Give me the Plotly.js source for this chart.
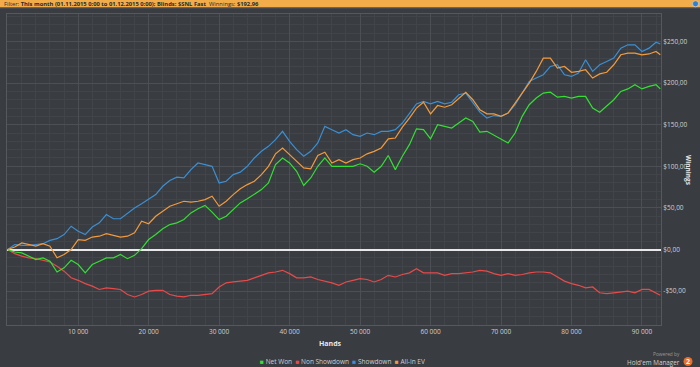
<!DOCTYPE html>
<html>
<head>
<meta charset="utf-8">
<script src="https://cdn.plot.ly/plotly-3.0.1.min.js"></script>
<style>
html,body{margin:0;padding:0;background:#393c41;}
#chart{width:700px;height:367px;}
</style>
</head>
<body>
<div id="chart"></div>
<script>
// Hands played (x values)
const hands = [0,1000,2000,3000,4000,5000,6000,7000,8000,9000,10000,11000,12000,13000,14000,15000,16000,17000,18000,19000,
20000,21000,22000,23000,24000,25000,26000,27000,28000,29000,30000,31000,32000,33000,34000,35000,36000,37000,38000,39000,
40000,41000,42000,43000,44000,45000,46000,47000,48000,49000,50000,51000,52000,53000,54000,55000,56000,57000,58000,59000,
60000,61000,62000,63000,64000,65000,66000,67000,68000,69000,70000,71000,72000,73000,74000,75000,76000,77000,78000,79000,
80000,81000,82000,83000,84000,85000,86000,87000,88000,89000,90000,91000,92000,92600];

const netWon = [0,-3,-4,-8,-12,-10,-14,-27,-22,-13,-18,-28,-18,-14,-10,-10,-6,-11,-7,1,
12,18,25,30,32,36,44,49,53,45,36,40,48,56,61,67,72,80,102,110,
104,94,77,86,100,110,100,100,100,100,103,100,93,100,113,96,112,126,145,144,
133,150,148,146,152,158,154,141,142,137,133,128,140,160,174,182,188,189,183,184,
182,184,184,170,165,172,180,190,193,198,193,196,198,192.96];

const nonShowdown = [0,-5,-8,-10,-11,-13,-15,-20,-26,-34,-37,-41,-44,-48,-46,-47,-48,-54,-57,-54,
-50,-49,-49,-54,-56,-57,-55,-55,-54,-53,-45,-40,-39,-38,-37,-34,-31,-28,-27,-25,
-29,-34,-34,-33,-36,-38,-40,-43,-39,-37,-35,-36,-39,-36,-31,-33,-30,-28,-23,-28,
-28,-28,-31,-29,-29,-28,-27,-25,-26,-29,-31,-29,-31,-30,-28,-27,-27,-28,-33,-38,
-41,-43,-46,-45,-52,-53,-52,-51,-50,-52,-48,-48,-52,-55];

const showdown = [0,6,5,5,6,7,11,13,18,28,22,18,27,32,42,37,37,44,50,55,
60,66,76,83,87,86,96,104,102,100,80,82,90,93,100,110,118,124,132,142,
130,120,112,118,128,148,144,140,144,138,136,140,138,142,142,144,152,164,175,178,
175,178,175,177,186,188,176,165,158,161,160,164,174,188,202,206,210,220,222,210,
208,212,228,214,222,226,230,242,246,246,238,242,249,247];

const allInEV = [0,3,8,6,4,7,4,-10,-6,0,12,11,15,16,19,17,15,16,20,34,
31,40,46,52,55,58,57,58,60,64,52,58,66,73,78,82,90,100,115,122,
114,106,98,97,113,117,104,108,104,108,110,115,118,122,133,134,147,158,170,177,
163,173,171,174,182,189,180,168,163,163,160,164,176,188,200,214,230,230,218,220,
213,214,216,206,211,213,222,234,236,236,234,235,238,234];

const seriesNames = ["Net Won","Non Showdown","Showdown","All-In EV"];
const seriesColors = ["#33e033","#e84a4a","#3b8fd4","#f39a3c"];

const xTickVals = [10000,20000,30000,40000,50000,60000,70000,80000,90000];
const xTickText = ["10 000","20 000","30 000","40 000","50 000","60 000","70 000","80 000","90 000"];
const yTickVals = [-50,0,50,100,150,200,250];
const yTickText = ["-$50,00","$0,00","$50,00","$100,00","$150,00","$200,00","$250,00"];

const headerText = "Filter: <b>This month (01.11.2015 0:00 to 01.12.2015 0:00); Blinds: $SNL Fast</b>  Winnings: <b>$192,96</b>";

const seriesData = [netWon, nonShowdown, showdown, allInEV];
const drawOrder = [1,0,2,3];
const traces = drawOrder.map(i => ({
  type: 'scatter', mode: 'lines', x: hands, y: seriesData[i], name: seriesNames[i],
  line: {color: seriesColors[i], width: 1.2}, showlegend: false, hoverinfo: 'skip'
}));

const W = 654, H = 311, L = 7, T = 14;
const px = v => (v - L) / W;
const py = v => (T + H - v) / H;

const legendText = seriesNames.map((n,i) =>
  `<span style="color:${seriesColors[i]}">■</span> ${n}`).join('  ');

const font = "'Open Sans', 'Noto Sans', sans-serif";

const layout = {
  width: 700, height: 367,
  paper_bgcolor: '#393c41', plot_bgcolor: '#393c41',
  margin: {l: 7, r: 39, t: 14, b: 42, pad: 0},
  font: {family: font, color: '#d6d6d6', size: 7},
  showlegend: false,
  xaxis: {
    range: [-100, 92700], tickvals: xTickVals, ticktext: xTickText,
    showgrid: true, gridcolor: '#4c4f54', gridwidth: 1,
    minor: {dtick: 2000, showgrid: true, gridcolor: '#414449', gridwidth: 1},
    zeroline: false, showline: true, linecolor: '#55585d', linewidth: 1, mirror: true,
    ticks: '', tickfont: {size: 6.5, color: '#d0d0d0', family: font}, fixedrange: true
  },
  yaxis: {
    range: [-90.7, 283], side: 'right', tickvals: yTickVals, ticktext: yTickText,
    showgrid: true, gridcolor: '#4c4f54', gridwidth: 1,
    minor: {dtick: 10, showgrid: true, gridcolor: '#414449', gridwidth: 1},
    zeroline: true, zerolinecolor: '#e8e8e8', zerolinewidth: 2,
    showline: true, linecolor: '#55585d', linewidth: 1, mirror: true,
    ticks: '', tickfont: {size: 6.5, color: '#d0d0d0', family: font}, fixedrange: true
  },
  shapes: [
    {type: 'rect', xref: 'paper', yref: 'paper', x0: px(0), x1: px(700), y0: py(7.5), y1: py(0),
     fillcolor: '#f2ad4a', line: {width: 0}, layer: 'above'},
    {type: 'line', xref: 'paper', yref: 'paper', x0: px(0), x1: px(700), y0: py(8), y1: py(8),
     line: {color: '#50535a', width: 1}, layer: 'above'},
    {type: 'circle', xref: 'paper', yref: 'paper', x0: px(692.5), x1: px(698.5), y0: py(6.8), y1: py(0.8),
     fillcolor: '#2f7fd0', line: {color: '#cfe3f7', width: 0.6}, layer: 'above'},
    {type: 'circle', xref: 'paper', yref: 'paper', x0: px(683.5), x1: px(692.5), y0: py(366), y1: py(357),
     fillcolor: '#e8702a', line: {width: 0}, layer: 'above'}
  ],
  annotations: [
    {xref: 'paper', yref: 'paper', x: px(2), y: py(3.9), xanchor: 'left', yanchor: 'middle',
     text: headerText, showarrow: false, font: {size: 5.8, color: '#2a2a2a', family: font}},
    {xref: 'paper', yref: 'paper', x: px(330), y: py(343), xanchor: 'center', yanchor: 'middle',
     text: '<b>Hands</b>', showarrow: false, font: {size: 7, color: '#e8e8e8', family: font}},
    {xref: 'paper', yref: 'paper', x: px(689), y: py(170), xanchor: 'center', yanchor: 'middle',
     text: '<b>Winnings</b>', textangle: 90, showarrow: false, font: {size: 6.5, color: '#e8e8e8', family: font}},
    {xref: 'paper', yref: 'paper', x: px(342), y: py(361), xanchor: 'center', yanchor: 'middle',
     text: legendText, showarrow: false, font: {size: 6.5, color: '#cfcfcf', family: font}},
    {xref: 'paper', yref: 'paper', x: px(682), y: py(353.5), xanchor: 'right', yanchor: 'middle',
     text: 'Powered by', showarrow: false, font: {size: 4.8, color: '#9a9a9a', family: font}},
    {xref: 'paper', yref: 'paper', x: px(682), y: py(362.5), xanchor: 'right', yanchor: 'middle',
     text: "Hold'em Manager", showarrow: false, font: {size: 6.3, color: '#cfcfcf', family: font}},
    {xref: 'paper', yref: 'paper', x: px(688), y: py(361.5), xanchor: 'center', yanchor: 'middle',
     text: '<b>2</b>', showarrow: false, font: {size: 7, color: '#ffffff', family: font}}
  ]
};

Plotly.newPlot('chart', traces, layout, {displayModeBar: false, staticPlot: true});
</script>
</body>
</html>
